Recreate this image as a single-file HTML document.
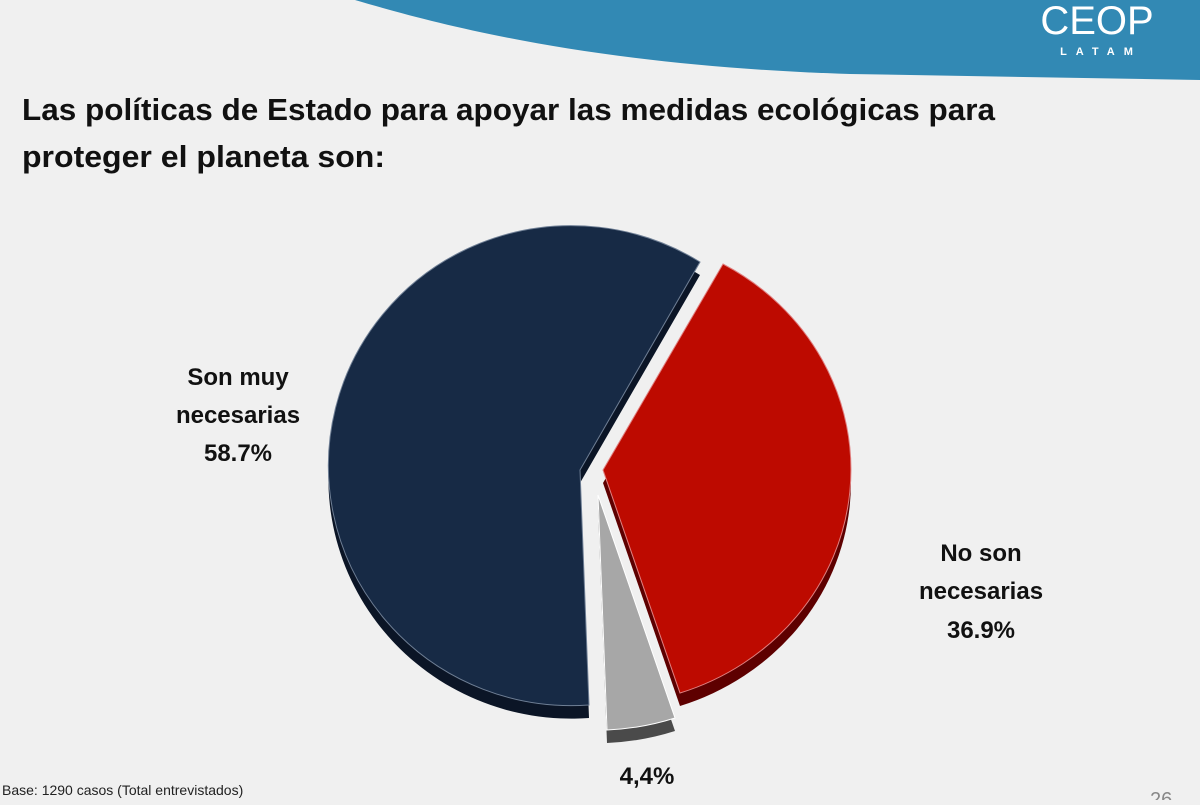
<!DOCTYPE html>
<html><head><meta charset="utf-8"><style>
body{margin:0;width:1200px;height:800px;overflow:hidden;background:#f0f0f0;font-family:"Liberation Sans",sans-serif}
</style></head><body>
<svg width="1200" height="800" viewBox="0 0 1200 800" xmlns="http://www.w3.org/2000/svg">
<rect width="1200" height="800" fill="#f0f0f0"/>
<path d="M355 0 C450 28 600 66 850 74 L1200 80 L1200 0 Z" fill="#3289b4"/>
<text x="1097" y="34" font-size="40" fill="#fff" text-anchor="middle" font-family="Liberation Sans">CEOP</text>
<text x="1101" y="55" font-size="11" fill="#fff" text-anchor="middle" letter-spacing="9" font-weight="bold">LATAM</text>
<text x="22" y="120" font-size="31" font-weight="bold" fill="#111" textLength="973" lengthAdjust="spacingAndGlyphs">Las políticas de Estado para apoyar las medidas ecológicas para</text>
<text x="22" y="167" font-size="31" font-weight="bold" fill="#111" textLength="363" lengthAdjust="spacingAndGlyphs">proteger el planeta son:</text>
<g transform="translate(0,13)">
<path d="M580 470 L589 705 A243 240 0 1 1 700 262 Z" fill="#0b1526"/>
<path d="M603 470 L723 264 A248 235 0 0 1 680 693 Z" fill="#5e0000"/>
<path d="M598 495 L675 718 A248 235 0 0 1 607 730 Z" fill="#4a4a4a"/>
</g>
<path d="M580 470 L589 705 A243 240 0 1 1 700 262 Z" fill="#172a45" stroke="#6f7f95" stroke-width="1"/>
<path d="M603 470 L723 264 A248 235 0 0 1 680 693 Z" fill="#bd0a00" stroke="#e08080" stroke-width="1"/>
<path d="M598 495 L675 718 A248 235 0 0 1 607 730 Z" fill="#a7a7a7" stroke="#fff" stroke-width="1"/>
<g font-size="24" font-weight="bold" fill="#111" text-anchor="middle">
<text x="238" y="385">Son muy</text>
<text x="238" y="423">necesarias</text>
<text x="238" y="461">58.7%</text>
<text x="981" y="561">No son</text>
<text x="981" y="599">necesarias</text>
<text x="981" y="638">36.9%</text>
<text x="647" y="784">4,4%</text>
</g>
<text x="2" y="795" font-size="14" fill="#222">Base: 1290 casos (Total entrevistados)</text>
<text x="1150" y="806" font-size="20" fill="#888">26</text>
</svg>
</body></html>
